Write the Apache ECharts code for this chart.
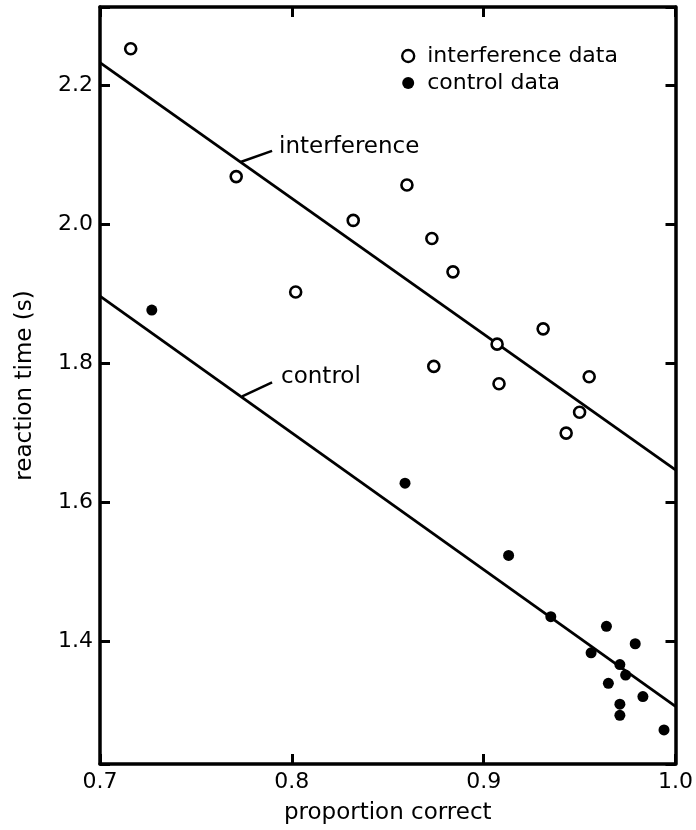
<!DOCTYPE html>
<html>
<head>
<meta charset="utf-8">
<script src="https://cdn.jsdelivr.net/npm/echarts@6/dist/echarts.min.js"></script>
<style>
  html, body { margin: 0; padding: 0; background: #fff; }
  #chart { width: 696px; height: 830px; }
</style>
</head>
<body>
<div id="chart"></div>
<script>
// values
var interfX = [0.716, 0.771, 0.802, 0.860, 0.832, 0.873, 0.884, 0.931, 0.907, 0.874, 0.908, 0.955, 0.950, 0.943];
var interfY = [2.253, 2.069, 1.903, 2.057, 2.006, 1.980, 1.932, 1.850, 1.828, 1.796, 1.771, 1.781, 1.730, 1.700];

var controlX = [0.727, 0.859, 0.913, 0.935, 0.964, 0.979, 0.956, 0.971, 0.974, 0.965, 0.983, 0.971, 0.971, 0.994];
var controlY = [1.877, 1.628, 1.524, 1.436, 1.422, 1.397, 1.384, 1.367, 1.352, 1.340, 1.321, 1.310, 1.294, 1.273];

// fitted lines, end points at x = 0.7 and x = 1.0
var fitX = [0.7, 1.0];
var interfFitY = [2.233, 1.647];
var controlFitY = [1.897, 1.307];

// short leader strokes from the lines to their labels
var interfLeader = [[0.7733, 2.090], [0.7897, 2.106]];
var controlLeader = [[0.7741, 1.753], [0.7897, 1.773]];

var xTicks = [0.7, 0.8, 0.9, 1.0];
var yMin = 1.224, yMax = 2.313;

function zip(xs, ys) {
    return xs.map(function (x, i) { return [x, ys[i]]; });
}

var FONT = 'DejaVu Sans';
var chart = echarts.init(document.getElementById('chart'));

var tickStyle = { inside: true, length: 10, lineStyle: { color: '#000', width: 3 } };
var lineAx = { onZero: false, lineStyle: { color: '#000', width: 3.5 } };

function yLabel(v) {
    var k = v / 0.2;
    return Math.abs(k - Math.round(k)) < 1e-6 ? v.toFixed(1) : '';
}

var option = {
    animation: false,
    backgroundColor: '#fff',
    grid: { left: 100, right: 16, top: 7, bottom: 62 },
    legend: {
        orient: 'vertical',
        left: 396,
        top: 40,
        itemWidth: 12,
        itemHeight: 12,
        itemGap: 5,
        selectedMode: false,
        textStyle: { fontFamily: FONT, fontSize: 22, color: '#000', padding: [0, 0, 0, 8] },
        data: [
            { name: 'interference data', icon: 'circle',
              itemStyle: { color: '#fff', borderColor: '#000', borderWidth: 2.4, opacity: 1 } },
            { name: 'control data', icon: 'circle',
              itemStyle: { color: '#000', borderWidth: 0, opacity: 1 } }
        ]
    },
    xAxis: [{
        type: 'value',
        position: 'bottom',
        min: xTicks[0],
        max: xTicks[xTicks.length - 1],
        interval: 0.1,
        axisLine: lineAx,
        axisTick: tickStyle,
        splitLine: { show: false },
        axisLabel: {
            margin: 7, fontFamily: FONT, fontSize: 22, color: '#000',
            formatter: function (v) { return v.toFixed(1); }
        },
        name: 'proportion correct',
        nameLocation: 'middle',
        nameGap: 38,
        nameTextStyle: { fontFamily: FONT, fontSize: 23, color: '#000' }
    }, {
        type: 'value',
        position: 'top',
        min: xTicks[0],
        max: xTicks[xTicks.length - 1],
        interval: 0.1,
        axisLine: lineAx,
        axisTick: tickStyle,
        splitLine: { show: false },
        axisLabel: { show: false }
    }],
    yAxis: [{
        type: 'value',
        position: 'left',
        min: yMin,
        max: yMax,
        splitNumber: 5,
        axisLine: lineAx,
        axisTick: tickStyle,
        splitLine: { show: false },
        axisLabel: {
            margin: 7, fontFamily: FONT, fontSize: 22, color: '#000',
            formatter: yLabel
        },
        name: 'reaction time (s)',
        nameLocation: 'middle',
        nameGap: 63,
        nameTextStyle: { fontFamily: FONT, fontSize: 23, color: '#000' }
    }, {
        type: 'value',
        position: 'right',
        min: yMin,
        max: yMax,
        splitNumber: 5,
        axisLine: lineAx,
        axisTick: tickStyle,
        splitLine: { show: false },
        axisLabel: { show: false }
    }],
    series: [{
        name: 'interference fit',
        type: 'line',
        data: zip(fitX, interfFitY),
        symbol: 'none',
        silent: true,
        lineStyle: { color: '#000', width: 2.8 },
        z: 2
    }, {
        name: 'control fit',
        type: 'line',
        data: zip(fitX, controlFitY),
        symbol: 'none',
        silent: true,
        lineStyle: { color: '#000', width: 2.8 },
        z: 2
    }, {
        name: 'interference leader',
        type: 'line',
        data: interfLeader,
        symbol: 'none',
        silent: true,
        lineStyle: { color: '#000', width: 2.5 },
        endLabel: {
            show: true, formatter: 'interference', distance: 7, offset: [0, -4],
            fontFamily: FONT, fontSize: 23, color: '#000'
        }
    }, {
        name: 'control leader',
        type: 'line',
        data: controlLeader,
        symbol: 'none',
        silent: true,
        lineStyle: { color: '#000', width: 2.5 },
        endLabel: {
            show: true, formatter: 'control', distance: 9, offset: [0, -5],
            fontFamily: FONT, fontSize: 23, color: '#000'
        }
    }, {
        name: 'interference data',
        type: 'scatter',
        data: zip(interfX, interfY),
        symbol: 'circle',
        symbolSize: 11,
        itemStyle: { color: '#fff', borderColor: '#000', borderWidth: 2.6, opacity: 1 },
        z: 4
    }, {
        name: 'control data',
        type: 'scatter',
        data: zip(controlX, controlY),
        symbol: 'circle',
        symbolSize: 11,
        itemStyle: { color: '#000', opacity: 1 },
        z: 4
    }]
};

chart.setOption(option);
</script>
</body>
</html>
